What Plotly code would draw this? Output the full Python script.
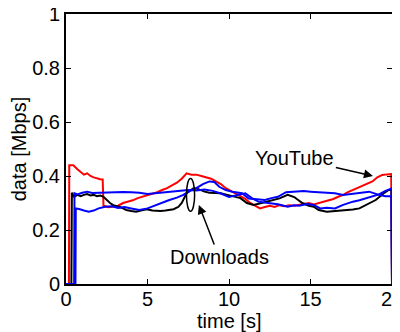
import plotly.graph_objects as go

# YouTube (red)
t_red = [0, 0.18, 0.2, 0.45, 0.7, 0.9, 1.1, 1.3, 1.5, 1.7, 1.9, 2.1, 2.25, 2.3, 2.6, 2.9, 3.2, 3.5,
         3.8, 4.1, 4.4, 4.7, 5.0, 5.3, 5.6, 5.9, 6.2, 6.5, 6.8, 7.1, 7.4, 7.7, 8.0, 8.3, 8.6, 8.9,
         9.2, 9.5, 9.8, 10.1, 10.4, 10.7, 11.0, 11.3, 11.6, 11.9, 12.2, 12.5, 12.8, 13.1, 13.4,
         13.7, 14.0, 14.3, 14.6, 14.9, 15.2, 15.5, 15.8, 16.1, 16.4, 16.7, 17.0, 17.3, 17.6, 17.9,
         18.2, 18.5, 18.8, 19.1, 19.4, 19.7, 19.95, 20.0]
v_red = [0, 0, 0.44, 0.44, 0.425, 0.415, 0.405, 0.41, 0.40, 0.395, 0.39, 0.388, 0.387, 0.29, 0.284,
         0.286, 0.29, 0.30, 0.305, 0.31, 0.318, 0.323, 0.33, 0.335, 0.34, 0.348, 0.355, 0.365,
         0.375, 0.39, 0.41, 0.405, 0.405, 0.40, 0.395, 0.39, 0.38, 0.37, 0.355, 0.345, 0.335,
         0.322, 0.315, 0.30, 0.29, 0.28, 0.285, 0.29, 0.285, 0.292, 0.288, 0.292, 0.29, 0.293,
         0.298, 0.30, 0.295, 0.30, 0.305, 0.31, 0.315, 0.323, 0.33, 0.34, 0.348, 0.355, 0.362,
         0.373, 0.38, 0.395, 0.404, 0.406, 0.407, 0]

# Download 1 (black)
t_blk = [0, 0.33, 0.36, 0.5, 0.7, 0.9, 1.1, 1.3, 1.5, 1.7, 1.9, 2.1, 2.3, 2.5, 2.7, 2.9, 3.1, 3.3,
         3.5, 3.7, 4.0, 4.3, 4.6, 4.95, 5.3, 5.8, 6.1, 6.4, 6.6, 6.9, 7.1, 7.4, 7.8, 8.0, 8.5, 8.8,
         9.2, 9.5, 9.9, 10.3, 10.7, 11.1, 11.5, 12.0, 12.3, 12.6, 13.1, 13.6, 14.0, 14.5, 14.9,
         15.2, 15.5, 16.0, 16.6, 17.2, 17.6, 18.0, 18.4, 19.0, 19.5, 19.8, 19.97, 20.0]
v_blk = [0, 0, 0.338, 0.323, 0.33, 0.325, 0.33, 0.333, 0.328, 0.33, 0.325, 0.328, 0.323, 0.31,
         0.30, 0.292, 0.289, 0.285, 0.28, 0.274, 0.27, 0.268, 0.272, 0.277, 0.272, 0.27, 0.272,
         0.274, 0.277, 0.286, 0.30, 0.336, 0.354, 0.354, 0.342, 0.338, 0.336, 0.336, 0.33, 0.325,
         0.318, 0.30, 0.293, 0.30, 0.305, 0.311, 0.317, 0.33, 0.322, 0.30, 0.29, 0.286, 0.274,
         0.268, 0.27, 0.274, 0.276, 0.28, 0.293, 0.311, 0.336, 0.348, 0.348, 0]

# Download 2 (blue A)
t_bla = [0, 0.5, 0.52, 0.7, 1.0, 1.3, 1.6, 2.0, 2.4, 3.0, 3.5, 4.0, 4.5, 5.0, 5.5, 6.0, 6.5, 7.0,
         7.5, 8.0, 8.5, 9.0, 9.5, 10.0, 10.5, 11.0, 11.4, 11.8, 12.4, 13.0, 13.6, 14.0, 14.3,
         14.8, 15.2, 15.6, 16.0, 16.5, 17.0, 17.6, 18.0, 18.4, 18.8, 19.2, 19.6, 19.97, 20.0]
v_bla = [0, 0, 0.336, 0.332, 0.338, 0.342, 0.337, 0.338, 0.341, 0.342, 0.341, 0.34, 0.338, 0.333,
         0.336, 0.338, 0.342, 0.345, 0.348, 0.346, 0.35, 0.345, 0.335, 0.322, 0.328, 0.336,
         0.318, 0.305, 0.30, 0.295, 0.286, 0.292, 0.29, 0.296, 0.293, 0.28, 0.282, 0.28, 0.293,
         0.305, 0.31, 0.317, 0.325, 0.332, 0.345, 0.354, 0]

# Download 3 (blue B)
t_blb = [0, 0.58, 0.6, 0.8, 1.1, 1.4, 1.7, 2.0, 2.4, 2.8, 3.2, 3.6, 4.0, 4.5, 5.0, 5.4, 5.8, 6.3,
         6.8, 7.2, 7.6, 8.0, 8.4, 8.8, 9.1, 9.4, 9.8, 10.2, 10.8, 11.2, 11.7, 12.2, 12.6, 13.0,
         13.5, 14.0, 14.6, 15.0, 15.5, 16.0, 16.5, 17.0, 17.6, 18.1, 18.6, 19.2, 19.6, 19.97, 20.0]
v_blb = [0, 0, 0.28, 0.278, 0.272, 0.268, 0.272, 0.28, 0.286, 0.288, 0.282, 0.285, 0.28, 0.274,
         0.28, 0.29, 0.30, 0.31, 0.32, 0.33, 0.345, 0.355, 0.37, 0.38, 0.378, 0.36, 0.348, 0.342,
         0.336, 0.317, 0.314, 0.311, 0.318, 0.323, 0.34, 0.342, 0.344, 0.342, 0.34, 0.338, 0.336,
         0.33, 0.335, 0.338, 0.342, 0.33, 0.325, 0.325, 0]

x_ticks = [0, 5, 10, 15, 20]
y_ticks = [0, 0.2, 0.4, 0.6, 0.8, 1]

FONT = "Liberation Sans, Arial, Helvetica, sans-serif"
FS = 20

fig = go.Figure()
for t, v, c in [(t_red, v_red, "#ff0000"), (t_blk, v_blk, "#000000"),
                (t_bla, v_bla, "#0000ff"), (t_blb, v_blb, "#0000ff")]:
    fig.add_trace(go.Scatter(x=t, y=v, mode="lines", line=dict(color=c, width=2),
                             showlegend=False, hoverinfo="skip"))

axis_common = dict(showline=True, linecolor="black", linewidth=2, mirror="allticks",
                   ticks="inside", ticklen=5, tickwidth=1, tickcolor="black",
                   showgrid=False, zeroline=False, automargin=False,
                   ticklabeloverflow="allow",
                   tickfont=dict(family=FONT, size=FS, color="black"))

fig.update_xaxes(range=[0, 20], tickvals=x_ticks, ticktext=[str(v) for v in x_ticks],
                 ticklabelstandoff=-4, **axis_common)
fig.update_yaxes(range=[0, 1], tickvals=y_ticks, ticktext=["0", "0.2", "0.4", "0.6", "0.8", "1"],
                 title=dict(text="data [Mbps]", font=dict(family=FONT, size=FS, color="black"),
                            standoff=4),
                 **axis_common)

# x-axis title placed as a paper annotation (just under the tick labels)
fig.add_annotation(x=0.5, y=-0.137, xref="paper", yref="paper", text="time [s]",
                   showarrow=False, xanchor="center", yanchor="middle",
                   font=dict(family=FONT, size=FS, color="black"))

fig.add_shape(type="circle", xref="x", yref="y", x0=7.39, x1=7.89, y0=0.269, y1=0.391,
              line=dict(color="black", width=1.5))

fig.add_annotation(x=18.83, y=0.40, ax=14.04, ay=0.467, xref="x", yref="y", axref="x", ayref="y",
                   text="YouTube", showarrow=True, arrowhead=2, arrowsize=1.2, arrowwidth=1.5,
                   arrowcolor="black", font=dict(family=FONT, size=FS, color="black"))
fig.add_annotation(x=8.15, y=0.293, ax=9.39, ay=0.10, xref="x", yref="y", axref="x", ayref="y",
                   text="Downloads", showarrow=True, arrowhead=2, arrowsize=1.2, arrowwidth=1.5,
                   arrowcolor="black", font=dict(family=FONT, size=FS, color="black"))

# the page body has an 8px margin, so the figure is drawn at (8, 8)
fig.update_layout(width=392, height=324, margin=dict(l=58, r=8, t=6, b=48),
                  plot_bgcolor="white", paper_bgcolor="white", autosize=False)

fig.write_html("out.html")
